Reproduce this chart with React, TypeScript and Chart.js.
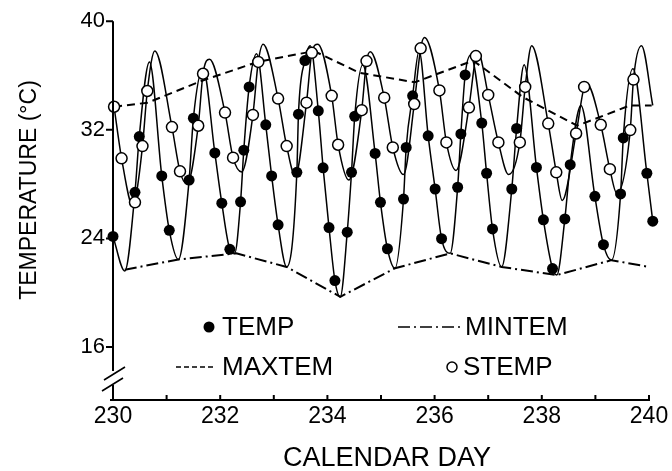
import React, { useEffect, useRef } from "react";
import { Chart, registerables } from "chart.js";

Chart.register(...registerables);

// ---------- data ----------
const X_LABEL_TICKS = [230, 232, 234, 236, 238, 240];
const X_MARK_TICKS = [230, 231, 232, 233, 234, 235, 236, 237, 238, 239, 240];
const Y_TICKS = [16, 24, 32, 40];

const TEMP_DAY = [
  230.0, 230.41, 230.49, 230.91, 231.05, 231.42, 231.5, 231.9, 232.03, 232.18,
  232.38, 232.44, 232.54, 232.85, 232.96, 233.08, 233.43, 233.46, 233.58, 233.83,
  233.92, 234.03, 234.14, 234.37, 234.45, 234.51, 234.89, 234.99, 235.12, 235.42,
  235.47, 235.59, 235.88, 236.01, 236.13, 236.43, 236.49, 236.57, 236.88, 236.97,
  237.08, 237.44, 237.53, 237.9, 238.03, 238.2, 238.43, 238.53, 238.99, 239.15,
  239.47, 239.52, 239.96, 240.07,
];
const TEMP = [
  24.15, 27.4, 31.5, 28.6, 24.6, 28.3, 32.86, 30.3, 26.6, 23.2,
  26.7, 30.5, 35.16, 32.37, 28.6, 25.0, 28.87, 33.15, 37.1, 33.4,
  29.2, 24.8, 20.9, 24.46, 28.87, 33.0, 30.26, 26.66, 23.24, 26.9,
  30.7, 34.5, 31.56, 27.64, 23.98, 27.77, 31.7, 36.04, 32.5, 28.8,
  24.7, 27.64, 32.1, 29.23, 25.37, 21.78, 25.44, 29.43, 27.1, 23.54,
  27.28, 31.4, 28.8, 25.27,
];

const STEMP_DAY = [
  230.02, 230.16, 230.41, 230.55, 230.64, 231.1, 231.25, 231.59, 231.68, 232.09,
  232.24, 232.61, 232.71, 233.08, 233.24, 233.61, 233.71, 234.08, 234.2, 234.64,
  234.73, 235.06, 235.22, 235.62, 235.74, 236.09, 236.22, 236.64, 236.77, 237.0,
  237.19, 237.59, 237.69, 238.12, 238.27, 238.64, 238.79, 239.1, 239.27, 239.65,
  239.71,
];
const STEMP = [
  33.7, 29.9, 26.66, 30.8, 34.86, 32.2, 28.94, 32.3, 36.13, 33.27,
  29.95, 33.1, 37.0, 34.3, 30.8, 34.0, 37.67, 34.5, 30.9, 33.45,
  37.06, 34.37, 30.7, 33.9, 38.0, 34.9, 31.07, 33.64, 37.43, 34.57,
  31.07, 31.07, 35.16, 32.46, 28.87, 31.73, 35.16, 32.37, 29.1, 31.98,
  35.7,
];

// turning points (daily lows / peaks) of the two solid model curves
const TEMP_CURVE_TURN_DAY = [
  230.22, 230.68, 231.22, 231.68, 232.27, 232.68, 233.24, 233.68, 234.24, 234.66,
  235.26, 235.71, 236.29, 236.67, 237.25, 237.67, 238.28, 238.73, 239.3, 239.7,
];
const TEMP_CURVE_TURN = [
  21.6, 37.0, 22.45, 36.5, 22.9, 37.6, 21.9, 38.2, 19.7, 36.8,
  21.8, 37.8, 22.9, 37.5, 21.9, 36.8, 21.3, 33.8, 22.4, 36.5,
];
const STEMP_CURVE_TURN_DAY = [
  230.38, 230.78, 231.38, 231.8, 232.4, 232.8, 233.4, 233.82, 234.4, 234.8,
  235.42, 235.81, 236.4, 236.81, 237.38, 237.81, 238.38, 238.84, 239.4, 239.86,
  240.07,
];
const STEMP_CURVE_TURN = [
  26.3, 37.8, 28.0, 37.2, 28.9, 38.3, 28.6, 38.3, 28.3, 37.75,
  28.7, 38.8, 29.0, 37.7, 28.7, 38.2, 26.8, 35.4, 27.3, 38.2,
  33.8,
];

const MAXTEM_DAY = [230.02, 230.65, 231.65, 232.7, 233.75, 234.6, 235.63, 236.72, 237.65, 238.66, 239.65, 240.05];
const MAXTEM = [33.7, 34.0, 35.6, 37.0, 37.8, 36.2, 35.5, 37.1, 34.4, 32.3, 33.8, 33.8];

const MINTEM_DAY = [230.22, 231.22, 232.3, 233.24, 234.24, 235.26, 236.29, 237.25, 238.28, 239.3, 240.0];
const MINTEM = [21.7, 22.45, 22.9, 21.9, 19.7, 21.8, 22.9, 21.9, 21.3, 22.4, 21.9];

const X_MIN = 230;
const X_MAX = 240;
const Y_MIN = 12.1;
const Y_MAX = 40;

const FONT = "'Liberation Sans', Arial, Helvetica, sans-serif";

// ---------- helpers ----------
const pts = (xs: number[], ys: number[]) => xs.map((x, i) => ({ x, y: ys[i] }));
const merged = (a: { x: number; y: number }[], b: { x: number; y: number }[]) =>
  [...a, ...b].sort((p, q) => p.x - q.x);

const MAX_DASH = [8, 5];
const MIN_DASH = [12, 4, 2, 4];

const decorPlugin = {
  id: "decor",
  afterDraw(chart: any) {
    const { ctx, chartArea: a, scales } = chart;
    const x = scales.x;
    const y = scales.y;
    ctx.save();
    ctx.strokeStyle = "#000";
    ctx.fillStyle = "#000";
    ctx.lineWidth = 2;
    ctx.setLineDash([]);

    const yTop = y.getPixelForValue(Y_TICKS[Y_TICKS.length - 1]);
    const gapTop = a.bottom - 29;
    const gapBot = a.bottom - 15;

    // y axis with break
    ctx.beginPath();
    ctx.moveTo(a.left, yTop);
    ctx.lineTo(a.left, gapTop);
    ctx.moveTo(a.left, gapBot);
    ctx.lineTo(a.left, a.bottom);
    ctx.stroke();

    // break marks
    ctx.lineWidth = 1.6;
    ctx.beginPath();
    ctx.moveTo(a.left - 9, a.bottom - 20);
    ctx.lineTo(a.left + 12, a.bottom - 33);
    ctx.moveTo(a.left - 11, a.bottom - 9);
    ctx.lineTo(a.left + 10, a.bottom - 22);
    ctx.stroke();

    // y ticks
    ctx.lineWidth = 2;
    ctx.beginPath();
    for (const v of Y_TICKS) {
      const py = y.getPixelForValue(v);
      ctx.moveTo(a.left - 7, py);
      ctx.lineTo(a.left, py);
    }
    ctx.stroke();

    // x axis
    ctx.beginPath();
    ctx.moveTo(a.left - 3, a.bottom);
    ctx.lineTo(x.getPixelForValue(X_MAX) + 1, a.bottom);
    for (const d of X_MARK_TICKS) {
      const px = x.getPixelForValue(d);
      ctx.moveTo(px, a.bottom);
      ctx.lineTo(px, a.bottom - 5);
    }
    ctx.stroke();

    // legend
    const r1 = a.bottom - 73;
    const r2 = a.bottom - 33;
    ctx.font = `26px ${FONT}`;
    ctx.textBaseline = "middle";
    ctx.textAlign = "left";

    ctx.beginPath();
    ctx.arc(209, r1, 5.5, 0, Math.PI * 2);
    ctx.fill();
    ctx.fillText("TEMP", 222, r1 + 1);

    ctx.lineWidth = 1.5;
    ctx.setLineDash(MIN_DASH);
    ctx.beginPath();
    ctx.moveTo(398, r1);
    ctx.lineTo(462, r1);
    ctx.stroke();
    ctx.setLineDash([]);
    ctx.fillText("MINTEM", 465, r1 + 1);

    ctx.setLineDash([5, 3]);
    ctx.beginPath();
    ctx.moveTo(176, r2);
    ctx.lineTo(216, r2);
    ctx.stroke();
    ctx.setLineDash([]);
    ctx.fillText("MAXTEM", 222, r2 + 1);

    ctx.beginPath();
    ctx.arc(452, r2, 5, 0, Math.PI * 2);
    ctx.fillStyle = "#fff";
    ctx.fill();
    ctx.stroke();
    ctx.fillStyle = "#000";
    ctx.fillText("STEMP", 463, r2 + 1);

    // axis titles
    ctx.font = `27px ${FONT}`;
    ctx.textAlign = "center";
    ctx.fillText("CALENDAR DAY", (a.left + a.right) / 2 + 6, 459);

    ctx.save();
    ctx.translate(30, 190);
    ctx.rotate(-Math.PI / 2);
    ctx.font = `23px ${FONT}`;
    ctx.fillText("TEMPERATURE (°C)", 0, 0);
    ctx.restore();

    ctx.restore();
  },
};

export default function App() {
  const ref = useRef<HTMLCanvasElement | null>(null);

  useEffect(() => {
    document.body.style.margin = "0";
    const canvas = ref.current;
    if (!canvas) return;
    Chart.defaults.color = "#000";
    Chart.defaults.font.family = FONT;

    const tempPts = pts(TEMP_DAY, TEMP);
    const stempPts = pts(STEMP_DAY, STEMP);
    const tempCurve = merged(tempPts, pts(TEMP_CURVE_TURN_DAY, TEMP_CURVE_TURN));
    const stempCurve = merged(stempPts, pts(STEMP_CURVE_TURN_DAY, STEMP_CURVE_TURN));

    const lineBase = {
      showLine: true,
      pointRadius: 0,
      pointHoverRadius: 0,
      borderColor: "#000",
      backgroundColor: "#000",
      fill: false,
      clip: false as any,
    };

    const chart = new Chart(canvas, {
      type: "scatter",
      data: {
        datasets: [
          {
            label: "STEMP",
            data: stempPts,
            showLine: false,
            pointRadius: 5.5,
            pointBorderWidth: 1.5,
            pointBackgroundColor: "#fff",
            pointBorderColor: "#000",
            order: 0,
            clip: false as any,
          },
          {
            label: "TEMP",
            data: tempPts,
            showLine: false,
            pointRadius: 5.5,
            pointBorderWidth: 0,
            pointBackgroundColor: "#000",
            pointBorderColor: "#000",
            order: 1,
            clip: false as any,
          },
          {
            ...lineBase,
            label: "TEMP model",
            data: tempCurve,
            borderWidth: 1.5,
            cubicInterpolationMode: "monotone",
            order: 2,
          },
          {
            ...lineBase,
            label: "STEMP model",
            data: stempCurve,
            borderWidth: 1.5,
            cubicInterpolationMode: "monotone",
            order: 2,
          },
          {
            ...lineBase,
            label: "MAXTEM",
            data: pts(MAXTEM_DAY, MAXTEM),
            borderWidth: 2,
            borderDash: MAX_DASH,
            tension: 0,
            order: 3,
          },
          {
            ...lineBase,
            label: "MINTEM",
            data: pts(MINTEM_DAY, MINTEM),
            borderWidth: 2,
            borderDash: MIN_DASH,
            tension: 0,
            order: 3,
          },
        ] as any,
      },
      options: {
        animation: false,
        responsive: true,
        maintainAspectRatio: false,
        events: [],
        layout: { padding: { top: 20, right: 23, left: 0, bottom: 0 } },
        plugins: { legend: { display: false }, tooltip: { enabled: false } },
        scales: {
          x: {
            type: "linear",
            min: X_MIN,
            max: X_MAX,
            grid: { display: false, drawTicks: false },
            border: { display: false },
            ticks: { font: { size: 23, family: FONT }, color: "#000", padding: 3, maxRotation: 0 },
            afterBuildTicks: (s: any) => {
              s.ticks = X_LABEL_TICKS.map((v) => ({ value: v }));
            },
            afterFit: (s: any) => {
              s.height = 71;
            },
          },
          y: {
            type: "linear",
            min: Y_MIN,
            max: Y_MAX,
            grid: { display: false, drawTicks: false },
            border: { display: false },
            ticks: { font: { size: 22, family: FONT }, color: "#000", padding: 8 },
            afterBuildTicks: (s: any) => {
              s.ticks = Y_TICKS.map((v) => ({ value: v }));
            },
            afterFit: (s: any) => {
              s.width = 113;
            },
          },
        },
      } as any,
      plugins: [decorPlugin],
    });
    return () => chart.destroy();
  }, []);

  return (
    <div style={{ width: 672, height: 471, position: "relative", background: "#fff" }}>
      <canvas ref={ref} />
    </div>
  );
}
